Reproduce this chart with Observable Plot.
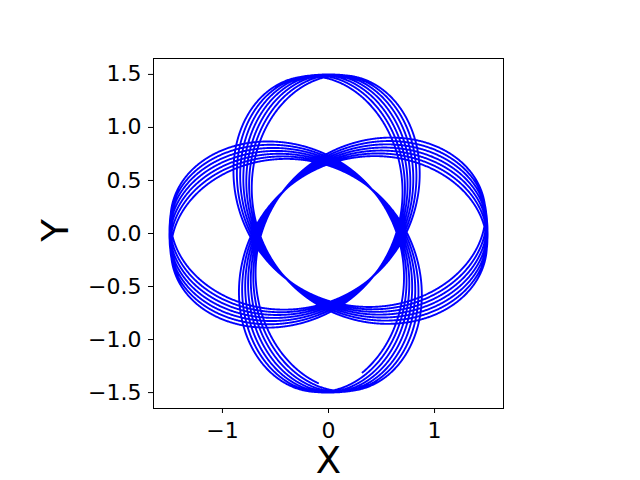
<!DOCTYPE html>
<html>
<head>
<meta charset="utf-8">
<script src="https://cdn.jsdelivr.net/npm/d3@7"></script>
<script src="https://cdn.jsdelivr.net/npm/@observablehq/plot@0.6"></script>
<style>
  html, body { margin: 0; padding: 0; background: #ffffff; }
</style>
</head>
<body>
<div id="chart"></div>
<script>
// Orbit: pericentre / apocentre radii (data units)
const periApoRadius = [0.58, 1.5];
// Angle swept from pericentre to apocentre (degrees) -> slow precession
const apsidalAngleDeg = [135.4];
// Direction of the first apocentre (degrees) and the number of apocentre passages
const firstApocentreDeg = [-77];
const apocentrePassages = [28];
// Track starts this far past the first apocentre and stops this far before the last (degrees)
const trackEndOffsetsDeg = [17, 23];
// Axis ticks
const xTicks = [-1, 0, 1];
const yTicks = [-1.5, -1.0, -0.5, 0.0, 0.5, 1.0, 1.5];
const axisLabels = ["X", "Y"];

// Build the orbit track (clockwise motion, precessing rosette)
const [rp, ra] = periApoRadius;
const A = (1 / rp + 1 / ra) / 2;
const B = (1 / rp - 1 / ra) / 2;
const psi = apsidalAngleDeg[0];
const k = 180 / psi;
const sweep = apocentrePassages[0] * 2 * psi - trackEndOffsetsDeg[0] - trackEndOffsetsDeg[1];
const rad = Math.PI / 180;
const track = [];
for (let s = 0; s <= sweep; s += 0.25) {
  const fromApo = s + trackEndOffsetsDeg[0];
  const r = 1 / (A - B * Math.cos(k * fromApo * rad));
  const th = (firstApocentreDeg[0] - fromApo) * rad;
  track.push({x: r * Math.cos(th), y: r * Math.sin(th)});
}

const chart = Plot.plot({
  width: 640,
  height: 480,
  marginLeft: 153,
  marginRight: 137,
  marginTop: 58,
  marginBottom: 72,
  style: {fontFamily: "DejaVu Sans", background: "#ffffff", color: "#000000"},
  x: {domain: [-1.65, 1.65]},
  y: {domain: [-1.65, 1.65]},
  marks: [
    Plot.line(track, {x: "x", y: "y", stroke: "#0000ff", strokeWidth: 1.9, curve: "linear"}),
    Plot.frame({stroke: "#000000", strokeWidth: 1}),
    Plot.axisX({ticks: xTicks, tickSize: 5, tickPadding: 9, fontSize: 22, label: null,
      tickFormat: d3.format("d"), stroke: "#000000", strokeWidth: 1}),
    Plot.axisY({ticks: yTicks, tickSize: 5, tickPadding: 7, fontSize: 22, label: null,
      tickFormat: d3.format(".1f"), stroke: "#000000", strokeWidth: 1}),
    Plot.text([axisLabels[0]], {frameAnchor: "bottom", dy: 53, lineAnchor: "middle", textAnchor: "middle",
      fontSize: 37, fill: "#000000"}),
    Plot.text([axisLabels[1]], {frameAnchor: "left", dx: -97, dy: -3, rotate: -90, lineAnchor: "middle",
      textAnchor: "middle", fontSize: 37, fill: "#000000"})
  ]
});
document.getElementById("chart").appendChild(chart);
</script>
</body>
</html>
